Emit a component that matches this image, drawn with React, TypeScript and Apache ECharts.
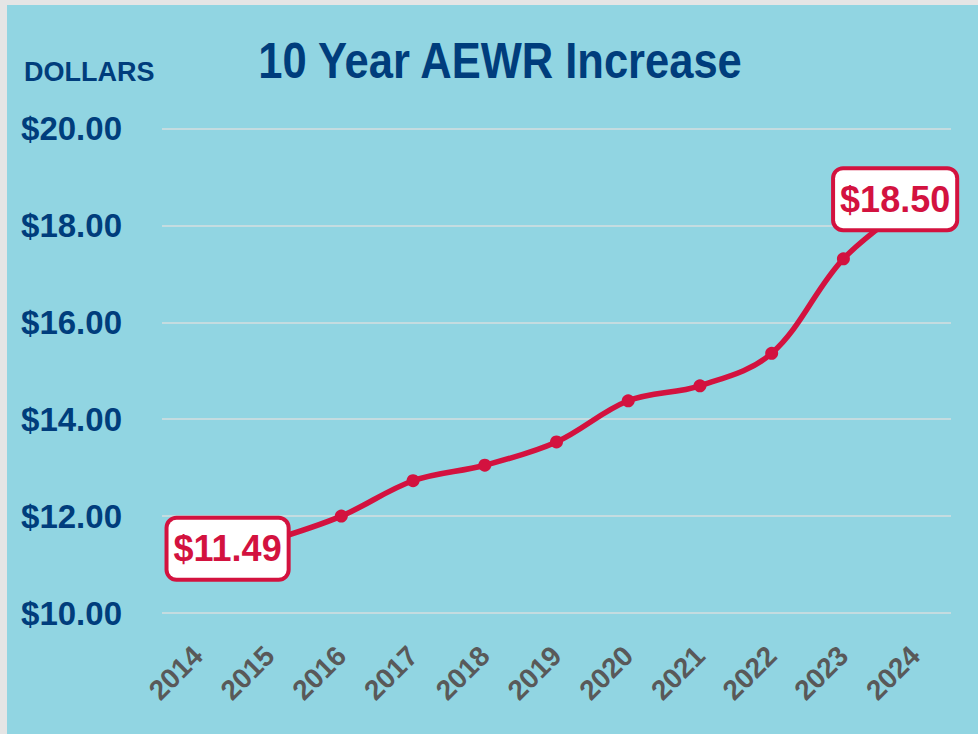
import React, { useEffect, useRef } from "react";
import * as echarts from "echarts";

const years = ["2014", "2015", "2016", "2017", "2018", "2019", "2020", "2021", "2022", "2023", "2024"];
const aewr: (number | null)[] = [null, 11.49, 12.0, 12.73, 13.05, 13.53, 14.38, 14.69, 15.36, 17.31, 18.5];
const yTicks = { min: 10, max: 20, interval: 2 };
const titleText = "10 Year AEWR Increase";
const yAxisTitle = "DOLLARS";
const labeledIdx = [1, 10];

const RED = "#D3123F";
const BLUE = "#003D7C";
const GRAY = "#595959";

export default function App() {
  const ref = useRef<HTMLDivElement>(null);
  useEffect(() => {
    document.body.style.margin = "0";
    const chart = echarts.init(ref.current!, null, { renderer: "svg" });
    const labelOffsets: Record<number, number[]> = { 1: [-42, 8], 10: [-20, -2] };
    const data = aewr.map((v, i) => {
      if (labeledIdx.includes(i)) {
        return {
          value: v,
          label: {
            show: true,
            position: "inside",
            offset: labelOffsets[i],
            formatter: (p: any) => "$" + Number(p.value).toFixed(2),
            color: RED,
            fontFamily: "Liberation Sans, Arial, sans-serif",
            fontWeight: "bold",
            fontSize: 36,
            lineHeight: 42,
            backgroundColor: "#FFFFFF",
            borderColor: RED,
            borderWidth: 4,
            borderRadius: 8,
            padding: [8, 5, 8, 5],
          },
        };
      }
      return v;
    });
    chart.setOption({
      animation: false,
      backgroundColor: "transparent",
      grid: { left: 162, right: 27, top: 128.5, bottom: 121, containLabel: false, outerBoundsMode: "none" },
      graphic: [
        {
          type: "text",
          x: 500,
          y: 61,
          scaleX: 0.87,
          scaleY: 1,
          style: {
            text: titleText,
            fill: BLUE,
            font: "bold 50px 'Liberation Sans', Arial, sans-serif",
            textAlign: "center",
            textVerticalAlign: "middle",
          },
        },
        {
          type: "text",
          x: 24,
          y: 72,
          style: {
            text: yAxisTitle,
            fill: BLUE,
            font: "bold 27px 'Liberation Sans', Arial, sans-serif",
            textAlign: "left",
            textVerticalAlign: "middle",
          },
        },
      ],
      xAxis: {
        type: "category",
        data: years,
        boundaryGap: true,
        axisLine: { show: false },
        axisTick: { show: false },
        axisLabel: {
          rotate: 45,
          margin: 38,
          color: GRAY,
          fontFamily: "Liberation Sans, Arial, sans-serif",
          fontWeight: "bold",
          fontSize: 28,
          interval: 0,
        },
      },
      yAxis: {
        type: "value",
        min: yTicks.min,
        max: yTicks.max,
        interval: yTicks.interval,
        axisLine: { show: false },
        axisTick: { show: false },
        splitLine: { lineStyle: { color: "#D6DEDF", width: 1.5 } },
        axisLabel: {
          margin: 40,
          color: BLUE,
          fontFamily: "Liberation Sans, Arial, sans-serif",
          fontWeight: "bold",
          fontSize: 33,
          formatter: (v: number) => "$" + v.toFixed(2),
        },
      },
      series: [
        {
          type: "line",
          data,
          smooth: 0.35,
          connectNulls: false,
          symbol: "circle",
          symbolSize: 13,
          lineStyle: { color: RED, width: 5.5 },
          itemStyle: { color: RED },
          label: { show: false },
          z: 3,
        },
      ],
    });
    return () => chart.dispose();
  }, []);
  return (
    <div style={{ position: "relative", width: 978, height: 734, background: "#E5E5E5", overflow: "hidden" }}>
      <div style={{ position: "absolute", left: 7, top: 5, width: 971, height: 729, background: "#91D5E2" }} />
      <div ref={ref} style={{ position: "absolute", left: 0, top: 0, width: 978, height: 734 }} />
    </div>
  );
}
